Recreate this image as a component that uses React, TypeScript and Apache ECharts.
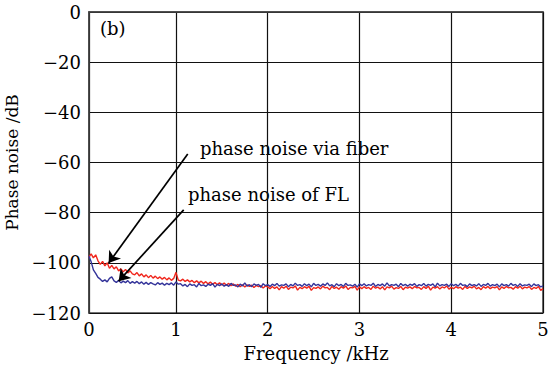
import React, { useEffect, useRef } from "react";
import * as echarts from "echarts";

const freqStart = 0.05;
const freqStep = 0.025;

const fiberNoise: number[] = [
  -97.8, -96.4, -98.0, -96.8, -99.2, -100.6, -99.4, -101.2, -100.0, -102.2, -101.0, -102.4, -101.6, -103.2, -102.4, -103.6, -102.6, -104.0, -103.2, -104.4,
  -104.8, -103.9, -105.2, -104.4, -105.6, -104.8, -105.9, -105.0, -106.1, -105.3, -106.3, -105.6, -106.5, -105.8, -106.8, -106.0, -107.0, -106.2, -103.8, -106.9,
  -107.2, -106.5, -107.4, -106.8, -107.6, -107.0, -107.9, -107.2, -108.0, -107.3, -108.2, -107.5, -108.4, -107.7, -108.5, -107.9, -108.7, -108.0, -108.8, -108.1,
  -108.9, -108.2, -109.1, -108.4, -109.3, -108.6, -109.5, -108.7, -109.6, -108.8, -109.4, -108.9, -109.8, -109.0, -109.5, -109.1, -110.0, -109.2, -109.6, -110.3,
  -109.4, -110.2, -109.6, -110.8, -109.5, -110.1, -109.3, -110.6, -109.7, -110.0, -109.2, -110.9, -109.8, -110.3, -109.5, -110.1, -109.4, -111.0, -109.9, -110.2,
  -109.6, -110.4, -109.3, -110.0, -109.8, -110.7, -109.4, -110.2, -109.7, -110.5, -109.5, -110.1, -109.2, -110.6, -109.8, -110.0, -109.4, -110.9, -109.6, -110.3,
  -109.5, -110.2, -109.8, -110.6, -109.3, -110.1, -109.7, -110.4, -109.5, -110.8, -109.6, -110.0, -109.3, -110.5, -109.9, -110.2, -109.4, -110.7, -109.7, -110.1,
  -109.6, -110.3, -109.4, -110.0, -109.8, -110.6, -109.5, -110.2, -109.3, -110.9, -109.7, -110.1, -109.5, -110.4, -109.6, -110.0, -109.2, -110.5, -109.8, -110.3,
  -109.5, -110.1, -109.7, -110.6, -109.4, -110.2, -109.6, -110.0, -109.3, -110.4, -109.8, -110.7, -109.5, -110.1, -109.4, -110.3, -109.7, -110.0, -109.5, -110.8,
  -109.6, -110.2, -109.4, -110.0, -109.8, -110.5, -109.5, -110.1, -109.3, -110.4, -109.7, -110.0, -109.5, -110.6, -109.8, -110.2, -109.4, -111.0, -110.3,
];

const flNoise: number[] = [
  -97.3, -99.5, -102.8, -104.2, -105.8, -106.5, -107.4, -106.8, -107.6, -106.2, -105.6, -107.2, -107.8, -107.0, -108.0, -107.3, -107.9, -107.1, -108.2, -107.5,
  -108.1, -107.4, -108.3, -107.6, -108.5, -107.8, -108.6, -107.9, -108.4, -108.8, -107.9, -108.6, -108.1, -108.9, -108.2, -108.7, -108.0, -108.9, -107.6, -108.5,
  -108.3, -109.2, -108.6, -109.5, -108.4, -109.0, -108.7, -109.6, -108.2, -109.1, -108.8, -109.4, -108.5, -109.0, -108.3, -109.7, -108.6, -109.1, -108.4, -109.3,
  -108.7, -109.4, -108.2, -109.0, -108.8, -109.6, -108.5, -109.2, -108.0, -109.3, -108.7, -109.5, -108.4, -109.0, -108.6, -109.8, -108.3, -109.1, -108.7, -109.4,
  -108.5, -109.1, -108.2, -109.3, -108.8, -109.0, -108.4, -109.5, -108.6, -109.2, -108.1, -109.0, -108.7, -109.4, -108.3, -109.1, -108.5, -109.6, -108.2, -109.0,
  -108.6, -109.3, -108.4, -109.0, -108.0, -109.2, -108.7, -109.5, -108.3, -109.1, -108.6, -109.4, -108.2, -109.0, -108.8, -109.3, -108.5, -109.7, -108.4, -109.1,
  -108.3, -109.2, -108.7, -109.0, -108.1, -109.4, -108.6, -109.1, -108.4, -109.3, -108.0, -109.2, -108.7, -109.0, -108.5, -109.5, -108.2, -109.1, -108.6, -109.3,
  -108.5, -109.0, -108.3, -109.4, -108.7, -109.1, -108.2, -109.3, -108.6, -109.0, -108.4, -109.6, -108.1, -109.2, -108.7, -109.0, -108.5, -109.4, -108.3, -109.1,
  -108.6, -109.3, -108.2, -109.0, -108.8, -109.5, -108.4, -109.1, -108.7, -109.2, -108.3, -109.4, -108.6, -109.0, -108.2, -109.3, -108.7, -109.1, -108.5, -109.6,
  -108.4, -109.1, -108.7, -109.3, -108.2, -109.0, -108.6, -109.4, -108.3, -109.2, -108.8, -109.0, -108.5, -109.5, -108.4, -109.1, -108.7, -109.6, -109.2,
];

const xTickValues: number[] = [0.052, 1, 2, 3, 4, 5];
const yMin = -120;
const yMax = 0;
const yInterval = 20;

const annotations = [
  { text: "phase noise via fiber", from: [1.128, -56.6], to: [0.266, -100.1] },
  { text: "phase noise of FL", from: [1.084, -78.9], to: [0.375, -107.3] },
];

const FONT = "'DejaVu Serif', 'Liberation Serif', serif";

function toPairs(vals: number[]): number[][] {
  return vals.map((v, i) => [Number((freqStart + i * freqStep).toFixed(3)), v]);
}

export default function App() {
  const ref = useRef<HTMLDivElement>(null);
  useEffect(() => {
    if (!ref.current) return;
    const chart = echarts.init(ref.current, null, { renderer: "svg" });
    const minus = (v: number) => (v < 0 ? "\u2212" + String(-v) : String(v));
    chart.setOption({
      animation: false,
      backgroundColor: "#ffffff",
      grid: {
        left: 89,
        right: 17,
        top: 12,
        bottom: 54,
        show: true,
        borderColor: "#444",
        borderWidth: 1.5,
        backgroundColor: "transparent",
        containLabel: false,
        outerBoundsMode: "none",
      },
      xAxis: {
        type: "value",
        min: 0.052,
        max: 5,
        name: "Frequency /kHz",
        nameLocation: "middle",
        nameGap: 31,
        nameTextStyle: { fontFamily: FONT, fontSize: 18, color: "#000" },
        axisLine: { show: true, lineStyle: { color: "#444", width: 1.5 } },
        axisTick: { show: false, customValues: xTickValues },
        axisLabel: {
          customValues: xTickValues,
          formatter: (v: number) => (v < 0.5 ? "0" : String(Math.round(v))),
          fontFamily: FONT,
          fontSize: 18,
          color: "#000",
          margin: 7,
        },
        splitLine: { show: true, lineStyle: { color: "#111", width: 1.2 } },
      },
      yAxis: {
        type: "value",
        min: yMin,
        max: yMax,
        interval: yInterval,
        name: "Phase noise /dB",
        nameLocation: "middle",
        nameGap: 55,
        nameTextStyle: { fontFamily: FONT, fontSize: 17, color: "#000" },
        axisLine: { show: true, lineStyle: { color: "#444", width: 1.5 } },
        axisTick: { show: false },
        axisLabel: {
          formatter: (v: number) => minus(v),
          fontFamily: FONT,
          fontSize: 18,
          color: "#000",
          margin: 8,
        },
        splitLine: { show: true, lineStyle: { color: "#111", width: 1.2 } },
      },
      graphic: [
        {
          type: "text",
          left: 100,
          top: 19,
          style: { text: "(b)", font: `18px ${FONT}`, fill: "#000" },
        },
        {
          type: "text",
          left: 200,
          top: 139,
          style: { text: annotations[0].text, font: `18px ${FONT}`, fill: "#000" },
        },
        {
          type: "text",
          left: 188,
          top: 185,
          style: { text: annotations[1].text, font: `18px ${FONT}`, fill: "#000" },
        },
      ],
      series: [
        {
          name: "phase noise via fiber",
          type: "line",
          data: toPairs(fiberNoise),
          showSymbol: false,
          symbol: "none",
          lineStyle: { color: "#f0261c", width: 1.4 },
          z: 2,
        },
        {
          name: "phase noise of FL",
          type: "line",
          data: toPairs(flNoise),
          showSymbol: false,
          symbol: "none",
          lineStyle: { color: "#34349a", width: 1.4 },
          z: 3,
          markLine: {
            silent: true,
            symbol: ["none", "arrow"],
            symbolSize: 11,
            label: { show: false },
            lineStyle: { color: "#000", width: 1.7, type: "solid" },
            data: annotations.map((a) => [
              { coord: a.from },
              { coord: a.to },
            ]),
          },
        },
      ],
    });
    return () => chart.dispose();
  }, []);
  return (
    <div
      ref={ref}
      style={{ position: "fixed", left: 0, top: 0, width: 560, height: 367 }}
    />
  );
}
